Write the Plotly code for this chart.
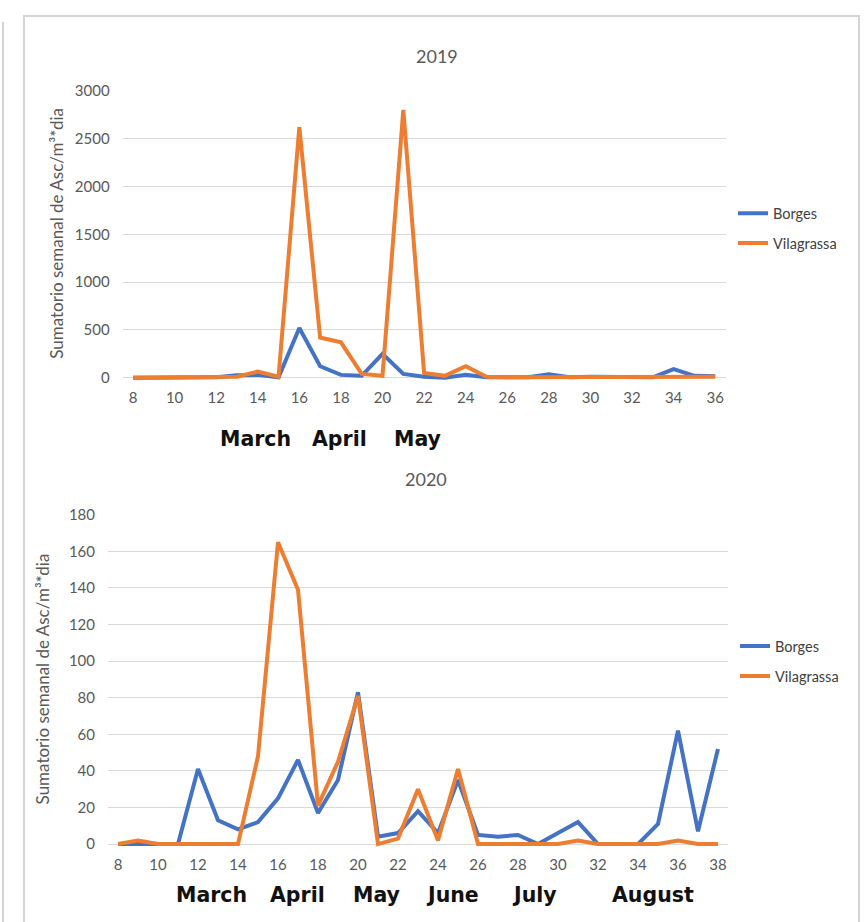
import plotly.graph_objects as go

# Weekly sums of ascospores (Asc/m3*day) per ISO week
weeks_2019 = list(range(8, 37))
borges_2019 = [0, 0, 0, 0, 5, 25, 30, 5, 520, 120, 30, 20, 250, 40, 10, 0, 30, 5,
               0, 5, 35, 5, 10, 5, 0, 5, 90, 20, 15]
vilagrassa_2019 = [0, 0, 0, 0, 0, 10, 65, 10, 2620, 420, 370, 40, 20, 2800, 50, 20,
                   120, 10, 5, 5, 10, 10, 10, 5, 5, 5, 10, 10, 10]

weeks_2020 = list(range(8, 39))
borges_2020 = [0, 0, 0, 0, 41, 13, 8, 12, 25, 46, 17, 35, 83, 4, 6, 18, 6, 35, 5, 4,
               5, 0, 6, 12, 0, 0, 0, 11, 62, 7, 52]
vilagrassa_2020 = [0, 2, 0, 0, 0, 0, 0, 48, 165, 139, 21, 45, 81, 0, 3, 30, 2, 41, 0,
                   0, 0, 0, 0, 2, 0, 0, 0, 0, 2, 0, 0]

ticks_2019 = list(range(8, 37, 2))
ticks_2020 = list(range(8, 39, 2))
yticks_2019 = [0, 500, 1000, 1500, 2000, 2500, 3000]
yticks_2020 = [0, 20, 40, 60, 80, 100, 120, 140, 160, 180]

months_2019 = ["March", "April", "May"]
month_pos_2019 = [13.9, 17.95, 21.7]
months_2020 = ["March", "April", "May", "June", "July", "August"]
month_pos_2020 = [12.65, 16.95, 20.9, 24.7, 28.8, 34.75]

BLUE = "#4472C4"
ORANGE = "#ED7D31"
W, H = 866, 922
TICK_FONT = dict(family="Lato, Open Sans, sans-serif", size=15, color="#595959")
Y_TITLE = "Sumatorio semanal de Asc/m³*dia"


def px_x(p):
    return p / W


def px_y(p):
    return 1 - p / H


fig = go.Figure()

for name, vals, col in [("Borges", borges_2019, BLUE), ("Vilagrassa", vilagrassa_2019, ORANGE)]:
    fig.add_trace(go.Scatter(x=weeks_2019, y=vals, name=name, mode="lines",
                             line=dict(color=col, width=4), xaxis="x", yaxis="y",
                             legend="legend", legendgroup=name + "19"))
for name, vals, col in [("Borges", borges_2020, BLUE), ("Vilagrassa", vilagrassa_2020, ORANGE)]:
    fig.add_trace(go.Scatter(x=weeks_2020, y=vals, name=name, mode="lines",
                             line=dict(color=col, width=4), xaxis="x2", yaxis="y2",
                             legend="legend2", legendgroup=name + "20"))

# top panel: 0 -> y=373px, 3000 -> y=82px
k1 = (373 - 82) / 3000
y1_lo, y1_hi = -60, 3000
# bottom panel: 0 -> y=846px, 180 -> y=512px
k2 = (846 - 512) / 180
y2_lo, y2_hi = -3, 180

grid = dict(showgrid=True, gridcolor="#D9D9D9", gridwidth=1, zeroline=False,
            showline=False, tickfont=TICK_FONT, ticks="", ticklabelstandoff=12)
LEG_FONT = dict(family="Lato, sans-serif", size=14.5, color="#404040")

fig.update_layout(
    width=W, height=H, margin=dict(l=0, r=0, t=0, b=0),
    paper_bgcolor="white", plot_bgcolor="white",
    xaxis=dict(domain=[px_x(122.6), px_x(725.6)], range=[7.5, 36.5], tickvals=ticks_2019,
               showgrid=False, zeroline=False, showline=False, tickfont=TICK_FONT,
               ticks="", ticklabelstandoff=4, anchor="y"),
    yaxis=dict(domain=[px_y(373 - y1_lo * k1), px_y(82)], range=[y1_lo, y1_hi],
               tickvals=yticks_2019, anchor="x", **grid),
    xaxis2=dict(domain=[px_x(108), px_x(728)], range=[7.5, 38.5], tickvals=ticks_2020,
                showgrid=False, zeroline=False, showline=False, tickfont=TICK_FONT,
                ticks="", ticklabelstandoff=4, anchor="y2"),
    yaxis2=dict(domain=[px_y(846 - y2_lo * k2), px_y(512)], range=[y2_lo, y2_hi],
                tickvals=yticks_2020, anchor="x2", **grid),
    legend=dict(x=px_x(733), y=px_y(190), xanchor="left", yanchor="top",
                font=LEG_FONT, tracegroupgap=8, bgcolor="rgba(0,0,0,0)"),
    legend2=dict(x=px_x(735), y=px_y(629), xanchor="left", yanchor="top",
                 font=LEG_FONT, tracegroupgap=8, bgcolor="rgba(0,0,0,0)"),
    showlegend=True,
)

TITLE_FONT = dict(family="Lato, sans-serif", size=18, color="#595959")
Y_TITLE_FONT = dict(family="Lato, sans-serif", size=17, color="#595959")
annotations = [
    dict(text="2019", x=px_x(437), y=px_y(47), font=TITLE_FONT),
    dict(text="2020", x=px_x(426), y=px_y(476), font=TITLE_FONT),
    dict(text=Y_TITLE, x=px_x(57), y=px_y(227), textangle=-90, font=Y_TITLE_FONT),
    dict(text=Y_TITLE, x=px_x(42), y=px_y(679), textangle=-90, font=Y_TITLE_FONT),
]
for a in annotations:
    a.update(xref="paper", yref="paper", xanchor="center", yanchor="middle", showarrow=False)

MONTH_FONT = dict(family="DejaVu Sans, sans-serif", size=20.5, color="#111111")
for m, p in zip(months_2019, month_pos_2019):
    annotations.append(dict(text="<b>%s</b>" % m, x=p, y=px_y(435), xref="x", yref="paper",
                            xanchor="center", yanchor="middle", showarrow=False,
                            font=MONTH_FONT))
for m, p in zip(months_2020, month_pos_2020):
    annotations.append(dict(text="<b>%s</b>" % m, x=p, y=px_y(898), xref="x2", yref="paper",
                            xanchor="center", yanchor="middle", showarrow=False,
                            font=MONTH_FONT))
fig.update_layout(annotations=annotations)

# outer frame of the figure panel
fig.update_layout(shapes=[
    dict(type="rect", xref="paper", yref="paper", x0=px_x(24), x1=px_x(859),
         y0=px_y(940), y1=px_y(6), line=dict(color="#D4D4D4", width=2)),
    dict(type="line", xref="paper", yref="paper", x0=px_x(3), x1=px_x(3),
         y0=px_y(940), y1=px_y(12), line=dict(color="#D4D4D4", width=2)),
])

fig.write_html("out.html")
